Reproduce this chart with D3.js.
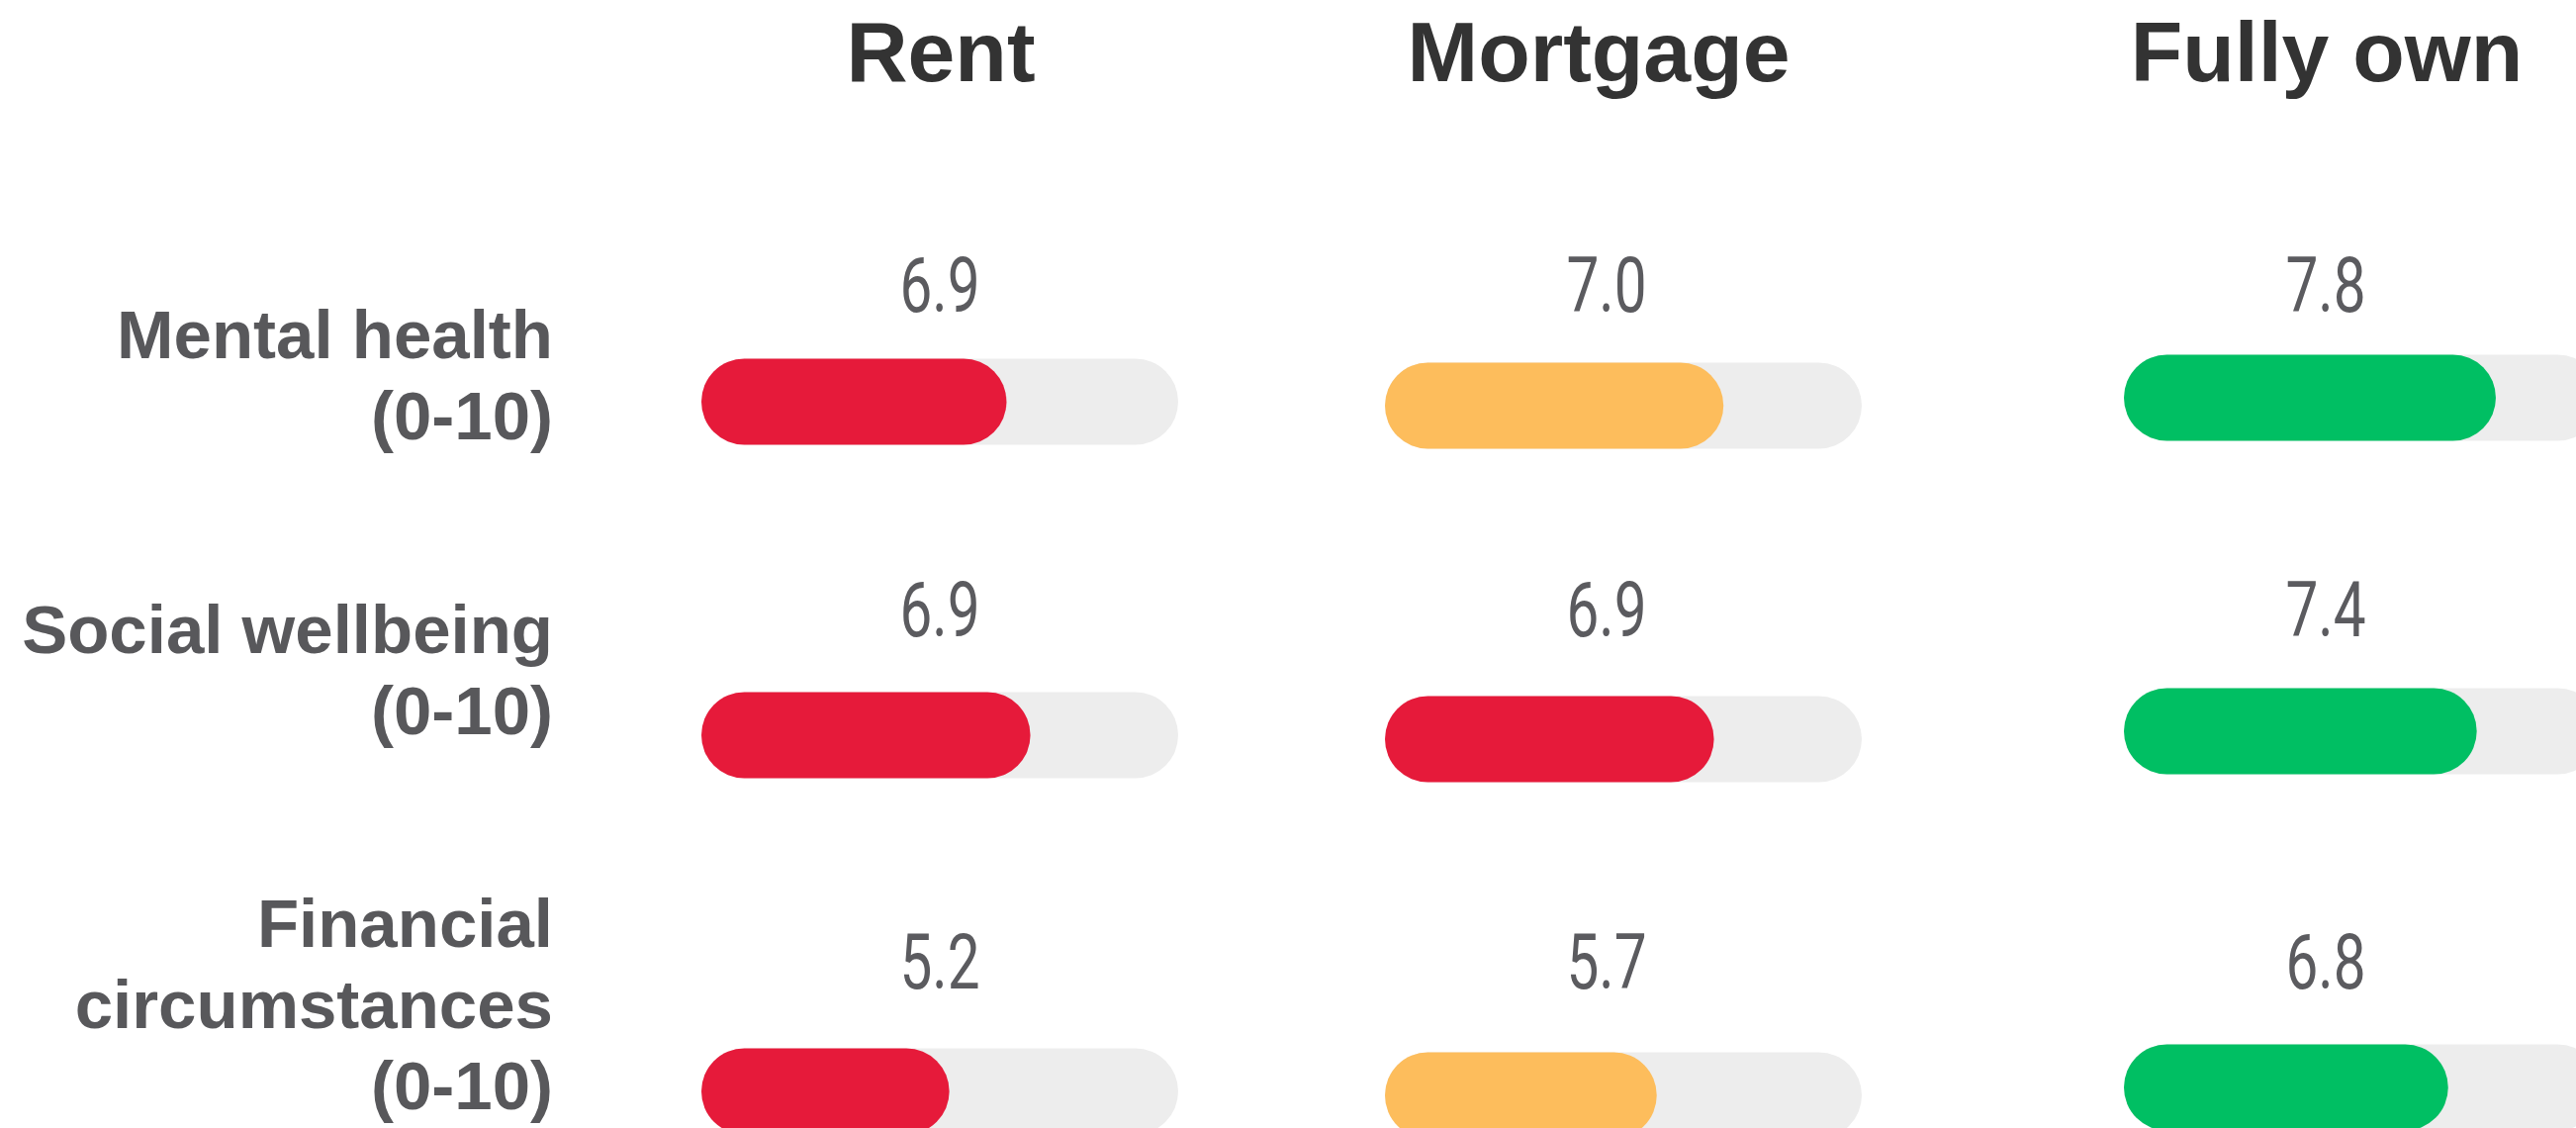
<!DOCTYPE html>
<html>
<head>
<meta charset="utf-8">
<script src="https://cdn.jsdelivr.net/npm/d3@7"></script>
<style>
  html, body { margin: 0; padding: 0; background: #ffffff; }
  svg { display: block; }
</style>
</head>
<body>
<svg id="chart" width="2604" height="1140"></svg>
<script>
// ---- data ----
const tenures = ["Rent", "Mortgage", "Fully own"];
const measures = [
  ["Mental health", "(0-10)"],
  ["Social wellbeing", "(0-10)"],
  ["Financial", "circumstances", "(0-10)"]
];
// printed scores (rows = measures, columns = tenures)
const mentalHealth = [6.9, 7.0, 7.8];
const socialWellbeing = [6.9, 6.9, 7.4];
const financial = [5.2, 5.7, 6.8];
// bar lengths as drawn in the picture (0-10 scale)
const mentalHealthBars = [6.4, 7.1, 7.8];
const socialWellbeingBars = [6.9, 6.9, 7.4];
const financialBars = [5.2, 5.7, 6.8];
// colour rating of each cell
const mentalHealthRating = ["low", "mid", "high"];
const socialWellbeingRating = ["low", "low", "high"];
const financialRating = ["low", "mid", "high"];

const scores = [mentalHealth, socialWellbeing, financial];
const bars = [mentalHealthBars, socialWellbeingBars, financialBars];
const ratings = [mentalHealthRating, socialWellbeingRating, financialRating];

// ---- layout ----
const svg = d3.select("#chart");
const trackW = 482, trackH = 87;

const colTrackX = d3.scaleOrdinal().domain(tenures).range([709, 1400, 2147]);
const colLabelX = d3.scaleOrdinal().domain(tenures).range([950, 1624, 2351]);
const colHeaderX = d3.scaleOrdinal().domain(tenures).range([951, 1616, 2352]);
const colDy = d3.scaleOrdinal().domain(tenures).range([0, 4, -4]);
const rowIdx = [0, 1, 2];
const rowTrackY = d3.scaleOrdinal().domain(rowIdx).range([406, 743, 1103]);
const rowValueY = d3.scaleOrdinal().domain(rowIdx).range([315, 643, 999]);
const rowLabelY = d3.scaleOrdinal().domain(rowIdx).range([362, 660, 957]);
const x = d3.scaleLinear().domain([0, 10]).range([0, trackW]);
const colour = d3.scaleOrdinal().domain(["low", "mid", "high"]).range(["#E61A3A", "#FDBD5C", "#00BF63"]);

// column headers
svg.append("g").selectAll("text").data(tenures).join("text")
  .attr("x", d => colHeaderX(d))
  .attr("y", 82)
  .attr("text-anchor", "middle")
  .attr("font-family", "'Liberation Sans', Arial, sans-serif")
  .attr("font-weight", 700)
  .attr("font-size", 86)
  .attr("fill", "#333333")
  .text(d => d);

// row labels
const lab = svg.append("g").selectAll("text").data(measures).join("text")
  .attr("text-anchor", "end")
  .attr("font-family", "'Liberation Sans', Arial, sans-serif")
  .attr("font-weight", 700)
  .attr("font-size", 69)
  .attr("fill", "#58585B");
lab.each(function(lines, i) {
  d3.select(this).selectAll("tspan").data(lines).join("tspan")
    .attr("x", 559)
    .attr("y", (l, j) => rowLabelY(i) + j * 82)
    .text(l => l);
});

// cells
const cells = [];
rowIdx.forEach(r => tenures.forEach((t, c) => cells.push({
  r, t, score: scores[r][c], bar: bars[r][c], rating: ratings[r][c]
})));

const g = svg.append("g").selectAll("g").data(cells).join("g");

g.append("rect")
  .attr("x", d => colTrackX(d.t))
  .attr("y", d => rowTrackY(d.r) + colDy(d.t) - trackH / 2)
  .attr("width", x(10))
  .attr("height", trackH)
  .attr("rx", trackH / 2)
  .attr("fill", "#EDEDED");

g.append("rect")
  .attr("x", d => colTrackX(d.t))
  .attr("y", d => rowTrackY(d.r) + colDy(d.t) - trackH / 2)
  .attr("width", d => x(d.bar))
  .attr("height", trackH)
  .attr("rx", trackH / 2)
  .attr("fill", d => colour(d.rating));

g.append("text")
  .attr("transform", d => `translate(${colLabelX(d.t)},${rowValueY(d.r)}) scale(0.76,1)`)
  .attr("text-anchor", "middle")
  .attr("font-family", "Roboto, 'Liberation Sans', sans-serif")
  .attr("font-weight", 400)
  .attr("font-size", 77)
  .attr("fill", "#5B5B5F")
  .text(d => d3.format(".1f")(d.score));
</script>
</body>
</html>
